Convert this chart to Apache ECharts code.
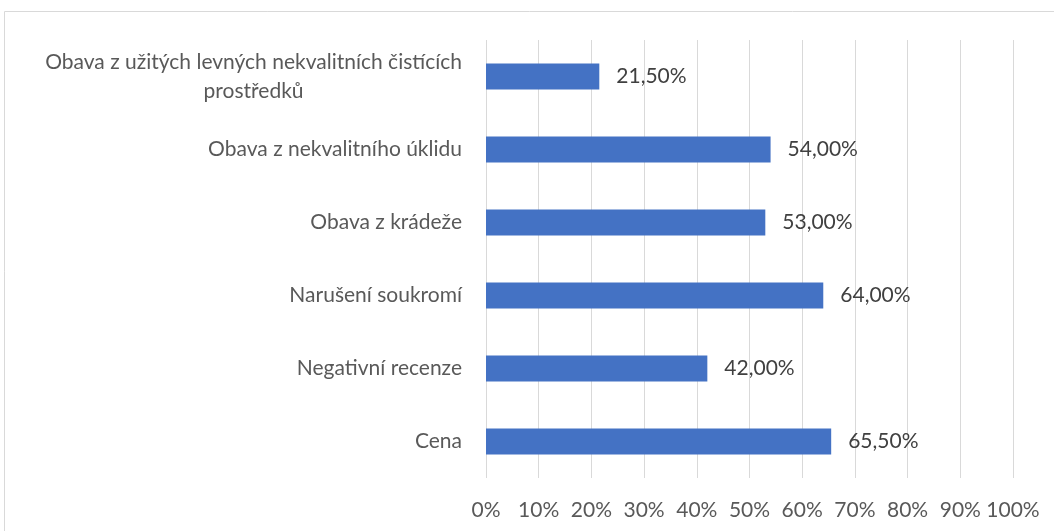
<!DOCTYPE html>
<html>
<head>
<meta charset="utf-8">
<script src="https://cdn.jsdelivr.net/npm/echarts@6/dist/echarts.min.js"></script>
<style>
  html, body { margin: 0; padding: 0; background: #fff; }
  #main { width: 1054px; height: 531px; }
</style>
</head>
<body>
<div id="main"></div>
<script>
// categories bottom -> top, as the y axis draws them
var categories = ['Cena', 'Negativní recenze', 'Narušení soukromí', 'Obava z krádeže',
    'Obava z nekvalitního úklidu', 'Obava z užitých levných nekvalitních čistících prostředků'];
var values = [65.5, 42, 64, 53, 54, 21.5];
var xTicks = [0, 10, 20, 30, 40, 50, 60, 70, 80, 90, 100];

var font = 'Lato';
var fs = 21;
var chart = echarts.init(document.getElementById('main'));

function wrapLabel(s) {
    // long category wraps onto two lines like in the original
    if (s.length > 40) {
        var i = s.lastIndexOf(' ');
        return s.slice(0, i) + '\n' + s.slice(i + 1);
    }
    return s;
}

chart.setOption({
    animation: false,
    graphic: [{
        type: 'rect',
        silent: true,
        shape: { x: 4.5, y: 11.5, width: 1200, height: 700 },
        style: { fill: 'none', stroke: '#d9d9d9', lineWidth: 1 }
    }],
    grid: { left: 486, right: 41, top: 40, bottom: 53 },
    xAxis: {
        type: 'value',
        min: xTicks[0],
        max: xTicks[xTicks.length - 1],
        interval: 10,
        axisLine: { show: false },
        axisTick: { show: false },
        splitLine: { lineStyle: { color: '#d9d9d9', width: 1 } },
        axisLabel: {
            color: '#595959', fontFamily: font, fontSize: fs, margin: 22,
            formatter: function (v) { return v + '%'; }
        }
    },
    yAxis: {
        type: 'category',
        data: categories,
        axisLine: { show: false },
        axisTick: { show: false },
        axisLabel: {
            margin: 24,
            formatter: function (v) { return '{c|' + wrapLabel(v).split('\n').join('}\n{c|') + '}'; },
            rich: {
                c: { color: '#595959', fontFamily: font, fontSize: fs, lineHeight: 29, align: 'center' }
            }
        }
    },
    series: [{
        type: 'bar',
        data: values,
        barWidth: 26,
        itemStyle: { color: '#4472c4' },
        label: {
            show: true,
            position: 'right',
            distance: 17,
            color: '#404040',
            fontFamily: font,
            fontSize: fs,
            formatter: function (p) { return p.value.toFixed(2).replace('.', ',') + '%'; }
        }
    }]
});
</script>
</body>
</html>
